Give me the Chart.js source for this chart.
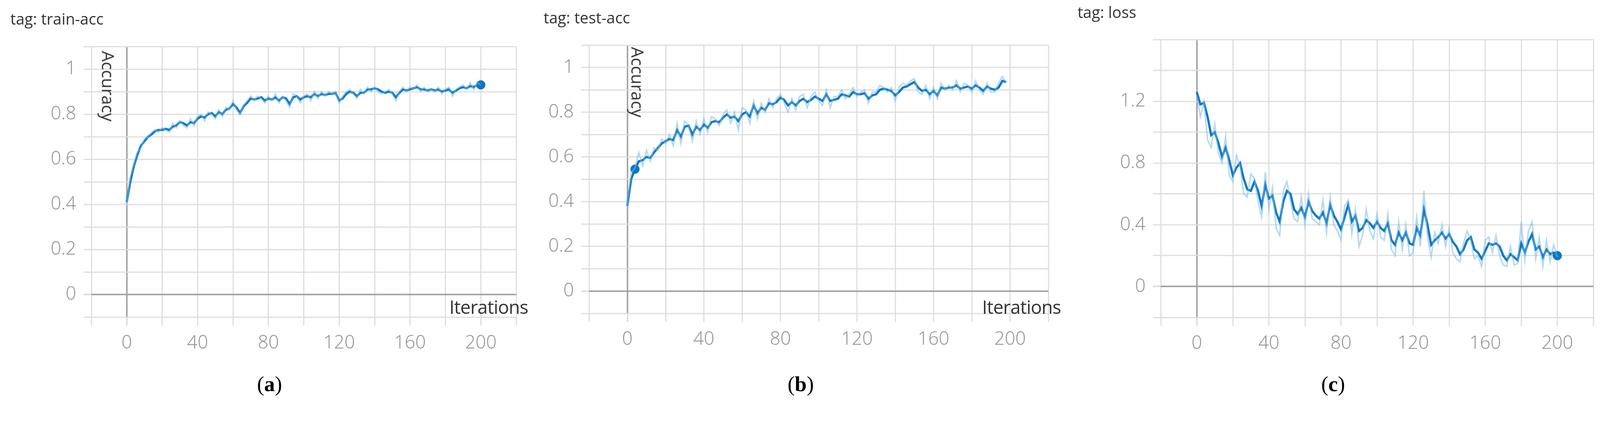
<!DOCTYPE html>
<html><head><meta charset="utf-8">
<script src="https://cdn.jsdelivr.net/npm/chart.js@4/dist/chart.umd.min.js"></script>
<style>
html,body{margin:0;background:#fff;overflow:hidden}
#wrap{width:4327px;height:1099px;position:absolute;left:0;top:0;transform-origin:0 0;font-family:"Open Sans",sans-serif}
.pane{position:absolute;top:0;height:1099px;overflow:hidden}
.pane canvas{display:block}
.t{position:absolute;color:#333;white-space:nowrap}
.tag{font-size:42px}
.it{font-size:50px;letter-spacing:-1px}
.acc{font-size:46px;transform-origin:0 0;transform:rotate(90deg)}
.cap{font-family:"Liberation Serif",serif;font-size:58px;color:#000}
.cap b{font-weight:bold}
</style></head><body>
<div id="wrap">
<div class="pane" style="left:0;width:1450px"><canvas id="ca"></canvas></div>
<div class="pane" style="left:1450px;width:1450px"><canvas id="cb"></canvas></div>
<div class="pane" style="left:2850px;width:1477px"><canvas id="cc"></canvas></div>
<div class="t tag" style="left:28px;top:22px">tag: train-acc</div>
<div class="t tag" style="left:1470px;top:18px">tag: test-acc</div>
<div class="t tag" style="left:2914px;top:4px">tag: loss</div>
<div class="t it" style="left:1215px;top:796px">Iterations</div>
<div class="t it" style="left:2656px;top:796px">Iterations</div>
<div class="t acc" style="left:324px;top:138px">Accuracy</div>
<div class="t acc" style="left:1756px;top:127px">Accuracy</div>
<div class="t cap" style="left:695px;top:1005px">(<b>a</b>)</div>
<div class="t cap" style="left:2130px;top:1005px">(<b>b</b>)</div>
<div class="t cap" style="left:3573px;top:1005px">(<b>c</b>)</div>
</div>
<script>
const iterations=[0,2,4,6,8,10,12,14,16,18,20,22,24,26,28,30,32,34,36,38,40,42,44,46,48,50,52,54,56,58,60,62,64,66,68,70,72,74,76,78,80,82,84,86,88,90,92,94,96,98,100,102,104,106,108,110,112,114,116,118,120,122,124,126,128,130,132,134,136,138,140,142,144,146,148,150,152,154,156,158,160,162,164,166,168,170,172,174,176,178,180,182,184,186,188,190,192,194,196,198,200];
const trainAcc=[0.41,0.5,0.57,0.62,0.66,0.68,0.70,0.71,0.725,0.73,0.73,0.735,0.73,0.745,0.75,0.765,0.76,0.75,0.765,0.76,0.78,0.79,0.785,0.80,0.805,0.79,0.81,0.80,0.82,0.825,0.845,0.83,0.805,0.835,0.85,0.87,0.865,0.87,0.875,0.86,0.87,0.865,0.875,0.86,0.875,0.87,0.845,0.875,0.88,0.865,0.875,0.88,0.875,0.89,0.88,0.89,0.885,0.89,0.89,0.895,0.86,0.87,0.89,0.90,0.895,0.88,0.895,0.895,0.91,0.91,0.915,0.91,0.90,0.895,0.90,0.895,0.875,0.895,0.91,0.905,0.91,0.915,0.92,0.91,0.91,0.905,0.91,0.905,0.91,0.90,0.905,0.91,0.895,0.905,0.915,0.92,0.915,0.925,0.92,0.93,0.93];
const trainRaw=[0.40,0.52,0.58,0.63,0.65,0.69,0.70,0.72,0.73,0.72,0.74,0.73,0.72,0.76,0.74,0.77,0.75,0.74,0.78,0.75,0.79,0.80,0.77,0.81,0.80,0.78,0.82,0.79,0.83,0.82,0.86,0.82,0.80,0.84,0.86,0.88,0.86,0.88,0.87,0.85,0.88,0.86,0.89,0.85,0.88,0.86,0.83,0.89,0.88,0.85,0.88,0.89,0.86,0.90,0.87,0.90,0.88,0.90,0.89,0.90,0.85,0.88,0.90,0.91,0.89,0.87,0.91,0.89,0.92,0.90,0.92,0.90,0.89,0.90,0.91,0.89,0.86,0.90,0.92,0.90,0.92,0.91,0.93,0.90,0.92,0.90,0.91,0.90,0.92,0.89,0.91,0.92,0.88,0.91,0.92,0.93,0.91,0.94,0.91,0.94,0.93];
const testAcc=[0.38,0.5,0.545,0.58,0.585,0.60,0.595,0.62,0.64,0.66,0.67,0.68,0.675,0.72,0.69,0.735,0.74,0.70,0.735,0.72,0.745,0.73,0.755,0.76,0.755,0.775,0.79,0.775,0.78,0.76,0.79,0.80,0.78,0.83,0.795,0.82,0.81,0.84,0.835,0.845,0.865,0.855,0.83,0.845,0.83,0.85,0.86,0.845,0.855,0.87,0.86,0.85,0.88,0.85,0.855,0.86,0.88,0.875,0.87,0.89,0.88,0.88,0.885,0.86,0.875,0.88,0.90,0.905,0.90,0.895,0.875,0.89,0.91,0.915,0.925,0.935,0.91,0.895,0.90,0.88,0.895,0.875,0.91,0.905,0.91,0.91,0.92,0.905,0.91,0.915,0.905,0.92,0.91,0.895,0.915,0.905,0.90,0.91,0.94,0.935];
const testRaw=[0.37,0.53,0.55,0.62,0.56,0.63,0.58,0.64,0.63,0.68,0.66,0.70,0.65,0.75,0.66,0.76,0.74,0.67,0.76,0.70,0.77,0.71,0.78,0.77,0.74,0.79,0.81,0.75,0.80,0.72,0.82,0.81,0.75,0.85,0.77,0.84,0.80,0.86,0.82,0.86,0.88,0.84,0.80,0.86,0.81,0.87,0.88,0.82,0.87,0.89,0.85,0.83,0.90,0.82,0.87,0.87,0.90,0.86,0.88,0.91,0.87,0.89,0.90,0.84,0.89,0.89,0.92,0.91,0.89,0.91,0.85,0.91,0.93,0.92,0.94,0.95,0.89,0.88,0.92,0.86,0.91,0.86,0.93,0.90,0.92,0.90,0.94,0.89,0.93,0.92,0.89,0.94,0.90,0.88,0.93,0.89,0.89,0.93,0.96,0.93];
const loss=[1.26,1.18,1.19,1.1,0.98,1.0,0.93,0.84,0.9,0.82,0.72,0.77,0.8,0.7,0.63,0.62,0.68,0.62,0.52,0.66,0.57,0.59,0.48,0.42,0.55,0.62,0.6,0.5,0.47,0.51,0.45,0.55,0.49,0.46,0.44,0.48,0.41,0.53,0.46,0.42,0.37,0.45,0.53,0.42,0.46,0.36,0.38,0.43,0.41,0.38,0.42,0.38,0.36,0.41,0.3,0.27,0.35,0.3,0.35,0.28,0.27,0.38,0.33,0.5,0.4,0.27,0.3,0.32,0.35,0.31,0.34,0.29,0.26,0.21,0.24,0.3,0.32,0.24,0.22,0.18,0.23,0.28,0.27,0.28,0.26,0.2,0.17,0.21,0.19,0.17,0.28,0.22,0.29,0.34,0.24,0.26,0.19,0.24,0.21,0.22,0.2];
const lossRaw=[1.24,1.1,1.2,0.95,0.9,1.05,0.86,0.8,0.97,0.72,0.68,0.85,0.78,0.6,0.58,0.73,0.7,0.55,0.45,0.74,0.5,0.64,0.38,0.33,0.62,0.68,0.55,0.44,0.42,0.58,0.4,0.6,0.44,0.42,0.4,0.56,0.35,0.58,0.4,0.36,0.3,0.52,0.56,0.34,0.5,0.26,0.33,0.5,0.36,0.31,0.47,0.32,0.3,0.47,0.24,0.2,0.42,0.24,0.4,0.2,0.22,0.45,0.26,0.62,0.32,0.19,0.35,0.28,0.4,0.26,0.38,0.22,0.18,0.16,0.28,0.36,0.3,0.18,0.2,0.13,0.3,0.32,0.22,0.33,0.2,0.14,0.13,0.26,0.14,0.15,0.42,0.17,0.36,0.42,0.18,0.32,0.13,0.3,0.16,0.27,0.19];
const xTickLabels=[0,40,80,120,160,200];
const accTickLabels=[0,0.2,0.4,0.6,0.8,1];
const lossTickLabels=[0,0.4,0.8,1.2];

const s=Math.min(window.innerWidth/4327, window.innerHeight/1099);
document.getElementById('wrap').style.transform='scale('+s+')';
const DPR=Math.max(1,(window.devicePixelRatio||1)*s);

const LINE='#0a78c0', RAW='rgba(120,185,230,0.55)';
const pts=(ys)=>ys.map((y,i)=>({x:iterations[i],y}));
function near(v,arr){return arr.some(a=>Math.abs(a-v)<1e-6);}
function make(id,o){
  const el=document.getElementById(id);
  el.width=o.w; el.height=1099;
  const gridCol=c=>Math.abs(c.tick.value)<1e-6?'#a0a0a0':'#dcdcdc';
  const gridW=c=>Math.abs(c.tick.value)<1e-6?4:3;
  new Chart(el,{type:'line',
    data:{datasets:[
      {data:pts(o.raw),borderColor:RAW,borderWidth:4,pointRadius:0,tension:0},
      {data:pts(o.main),borderColor:LINE,borderWidth:6,pointRadius:0,tension:0},
      {data:[o.dot],borderColor:LINE,backgroundColor:LINE,pointRadius:12,showLine:false}
    ]},
    options:{responsive:false,animation:false,devicePixelRatio:DPR,
      layout:{padding:{left:0,right:o.pr,top:o.pt,bottom:0}},
      plugins:{legend:{display:false},tooltip:{enabled:false}},
      scales:{
        x:{type:'linear',min:-20,max:220,afterFit:sc=>{sc.height=1099-o.bot;},
          afterBuildTicks:sc=>{sc.ticks=[-20,0,20,40,60,80,100,120,140,160,180,200,220].map(v=>({value:v}));},
          border:{display:false},
          grid:{color:gridCol,lineWidth:gridW,tickLength:23,drawTicks:true,tickColor:'#dcdcdc'},
          ticks:{autoSkip:false,maxRotation:0,padding:18,color:'#8a8a8a',font:{family:'Open Sans',size:50,weight:300},
            callback:v=>near(v,xTickLabels)?String(v):''}},
        y:{type:'linear',min:o.ymin,max:o.ymax,afterFit:sc=>{sc.width=o.left;},
          afterBuildTicks:sc=>{sc.ticks=o.yt.map(v=>({value:v}));},
          border:{display:false},
          grid:{color:gridCol,lineWidth:gridW,tickLength:21,tickColor:'#dcdcdc'},
          ticks:{autoSkip:false,padding:20,color:'#8a8a8a',font:{family:'Open Sans',size:50,weight:300},
            callback:v=>near(v,o.lab)?String(Math.round(v*10)/10):''}}
      }}});
}
const accTicks=[-0.1,0,0.1,0.2,0.3,0.4,0.5,0.6,0.7,0.8,0.9,1,1.1];
make('ca',{w:1450,raw:trainRaw,main:trainAcc,dot:{x:200,y:0.93},pr:54,pt:126,bot:858,left:247,ymin:-0.1,ymax:1.1,yt:accTicks,lab:accTickLabels});
make('cb',{w:1450,raw:testRaw,main:testAcc,dot:{x:4,y:0.545},pr:65,pt:122,bot:848,left:143,ymin:-0.1,ymax:1.1,yt:accTicks,lab:accTickLabels});
make('cc',{w:1477,raw:lossRaw,main:loss,dot:{x:200,y:0.2},pr:12,pt:107,bot:859,left:289,ymin:-0.2,ymax:1.6,yt:[-0.2,0,0.2,0.4,0.6,0.8,1,1.2,1.4,1.6],lab:lossTickLabels});
</script></body></html>
